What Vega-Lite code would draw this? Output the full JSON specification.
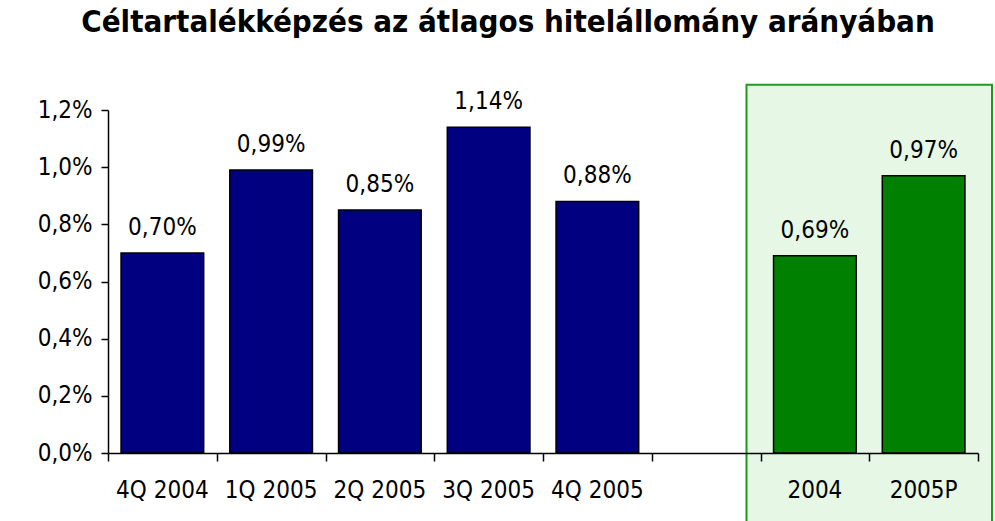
{
  "$schema": "https://vega.github.io/schema/vega-lite/v6.json",
  "autosize": "none",
  "padding": {"left": 108, "top": 110, "right": 17, "bottom": 68},
  "width": 870,
  "height": 343,
  "background": "white",
  "config": {
    "locale": {"number": {"decimal": ",", "thousands": " ", "grouping": [3], "currency": ["", ""]}},
    "view": {"stroke": null},
    "font": "DejaVu Sans Condensed"
  },
  "title": {
    "text": "Céltartalékképzés az átlagos hitelállomány arányában",
    "font": "DejaVu Sans Condensed",
    "fontSize": 31,
    "fontWeight": "bold",
    "color": "black",
    "anchor": "middle",
    "frame": "group",
    "dx": -35,
    "offset": 45
  },
  "datasets": {
    "bars": [
      {"cat": "4Q 2004", "v": 0.0070, "group": "negyedév"},
      {"cat": "1Q 2005", "v": 0.0099, "group": "negyedév"},
      {"cat": "2Q 2005", "v": 0.0085, "group": "negyedév"},
      {"cat": "3Q 2005", "v": 0.0114, "group": "negyedév"},
      {"cat": "4Q 2005", "v": 0.0088, "group": "negyedév"},
      {"cat": "2004", "v": 0.0069, "group": "év"},
      {"cat": "2005P", "v": 0.0097, "group": "év"}
    ],
    "box": [{"start": "2004", "end": "2005P"}]
  },
  "resolve": {"axis": {"x": "independent"}},
  "layer": [
    {
      "data": {"name": "box"},
      "mark": {"type": "rect", "fill": "#e6f7e6", "stroke": "#1f9a1f", "strokeWidth": 2, "xOffset": -14, "x2Offset": 14, "clip": false},
      "encoding": {
        "x": {"field": "start", "type": "nominal", "bandPosition": 0, "axis": null},
        "x2": {"field": "end", "bandPosition": 1},
        "y": {"datum": 0.01288, "type": "quantitative"},
        "y2": {"datum": -0.003}
      }
    },
    {
      "data": {"name": "bars"},
      "mark": {"type": "bar", "stroke": "black", "strokeWidth": 1.5, "width": {"band": 0.76}},
      "encoding": {
        "x": {
          "field": "cat", "type": "nominal", "sort": null,
          "scale": {"domain": ["4Q 2004", "1Q 2005", "2Q 2005", "3Q 2005", "4Q 2005", " ", "2004", "2005P"], "paddingInner": 0, "paddingOuter": 0},
          "axis": {
            "title": null, "orient": "bottom", "labels": false, "tickBand": "extent", "domainColor": "black", "tickColor": "black",
            "tickSize": 8, "domainWidth": 1.5, "tickWidth": 1.5, "zindex": 1
          }
        },
        "y": {
          "field": "v", "type": "quantitative",
          "scale": {"domain": [0, 0.012], "nice": false},
          "axis": {
            "title": null, "values": [0, 0.002, 0.004, 0.006, 0.008, 0.01, 0.012], "format": ".1%", "grid": false,
            "domainColor": "black", "tickColor": "black", "tickSize": 7, "domainWidth": 1.5, "tickWidth": 1.5,
            "labelFont": "DejaVu Sans Condensed", "labelFontSize": 24, "labelColor": "black", "labelPadding": 9, "zindex": 1
          }
        },
        "color": {"field": "group", "type": "nominal", "scale": {"domain": ["negyedév", "év"], "range": ["#000080", "#008000"]}, "legend": null}
      }
    },
    {
      "data": {"name": "bars"},
      "mark": {"type": "text", "baseline": "alphabetic", "dy": -18, "font": "DejaVu Sans Condensed", "fontSize": 24, "color": "black"},
      "encoding": {
        "x": {
          "field": "cat", "type": "nominal", "sort": null,
          "axis": {
            "title": null, "orient": "bottom", "labelAngle": 0, "ticks": false, "domain": false,
            "labelFont": "DejaVu Sans Condensed", "labelFontSize": 24, "labelColor": "black", "labelPadding": 25, "zindex": 1
          }
        },
        "y": {"field": "v", "type": "quantitative"},
        "text": {"field": "v", "type": "quantitative", "format": ".2%"}
      }
    }
  ]
}
